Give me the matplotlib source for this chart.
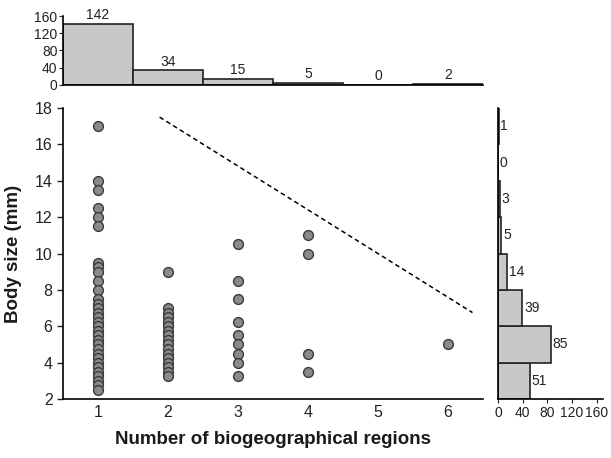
import numpy as np
import matplotlib
matplotlib.use("Agg")
import matplotlib.pyplot as plt

plt.rcParams['font.family'] = ['Liberation Sans', 'DejaVu Sans']

# number of regions histogram (top)
regions = [1, 2, 3, 4, 5, 6]
region_counts = [142, 34, 15, 5, 0, 2]

# body size histogram (right)
size_edges = [2, 4, 6, 8, 10, 12, 14, 16, 18]
size_counts = [51, 85, 39, 14, 5, 3, 0, 1]

# distinct body sizes seen at each number of regions
sizes_r1 = [17, 14, 13.5, 12.5, 12, 11.5, 9.5, 9.25, 9, 8.5, 8, 7.5, 7.25, 7,
            6.75, 6.5, 6.25, 6, 5.75, 5.5, 5.25, 5, 4.75, 4.5, 4.25, 4, 3.75,
            3.5, 3.25, 3, 2.75, 2.5]
sizes_r2 = [9, 7, 6.75, 6.5, 6.25, 6, 5.75, 5.5, 5.25, 5, 4.75, 4.5, 4.25, 4,
            3.75, 3.5, 3.25]
sizes_r3 = [10.5, 8.5, 7.5, 6.25, 5.5, 5, 4.5, 4, 3.25]
sizes_r4 = [11, 10, 4.5, 3.5]
sizes_r6 = [5]

# dashed upper bound line
bound_x = [1.88, 6.35]
bound_y = [17.5, 6.75]

W, H = 611, 458
fig = plt.figure(figsize=(W / 100, H / 100), dpi=100)

def frac(x0, y0, x1, y1):
    return [x0 / W, 1 - y1 / H, (x1 - x0) / W, (y1 - y0) / H]

ax = fig.add_axes(frac(63, 108, 483, 399))
ax_top = fig.add_axes(frac(63, 16, 483, 85))
ax_right = fig.add_axes(frac(498, 108, 603, 399))

bar_face = '#c8c8c8'
tick_fs = 11.5

# main scatter
xs, ys = [], []
for r, vals in zip([1, 2, 3, 4, 6], [sizes_r1, sizes_r2, sizes_r3, sizes_r4, sizes_r6]):
    xs += [r] * len(vals)
    ys += vals
ax.scatter(xs, ys, s=50, facecolor='#8a8a8a', edgecolor='#3a3a3a', linewidth=1.0, zorder=3)
ax.plot(bound_x, bound_y, color='black', linestyle=(0, (3, 2.2)), linewidth=1.1)

ax.set_xlim(0.5, 6.5)
ax.set_ylim(2, 18)
ax.set_xticks(regions)
ax.set_yticks(np.arange(2, 19, 2))
ax.tick_params(axis='x', length=0, pad=4, labelsize=tick_fs, colors='#222222')
ax.tick_params(axis='y', length=4, width=1, direction='out', labelsize=tick_fs, colors='#222222')
for s in ['top', 'right']:
    ax.spines[s].set_visible(False)
for s in ['left', 'bottom']:
    ax.spines[s].set_linewidth(1.2)
ax.set_xlabel('Number of biogeographical regions', fontsize=13.5, fontweight='bold',
              labelpad=8, color='#1a1a1a')
ax.set_ylabel('Body size (mm)', fontsize=13.5, fontweight='bold', labelpad=9, color='#1a1a1a')

# top histogram
ax_top.bar(regions, region_counts, width=1, facecolor=bar_face, edgecolor='#222222', linewidth=1.2)
for r, c in zip(regions, region_counts):
    ax_top.text(r, c + 4, str(c), ha='center', va='bottom', fontsize=10, color='#222222',
                clip_on=False)
ax_top.set_xlim(0.5, 6.5)
ax_top.set_ylim(0, 160)
ax_top.set_yticks([0, 40, 80, 120, 160])
ax_top.set_xticks([])
ax_top.tick_params(axis='y', length=3, labelsize=10, pad=1, colors='#222222')
for s in ['top', 'right']:
    ax_top.spines[s].set_visible(False)
for s in ['left', 'bottom']:
    ax_top.spines[s].set_linewidth(1.2)

# right histogram
centers = [(a + b) / 2 for a, b in zip(size_edges[:-1], size_edges[1:])]
ax_right.barh(centers, size_counts, height=2, facecolor=bar_face, edgecolor='#222222', linewidth=1.2)
for yc, c in zip(centers, size_counts):
    ax_right.text(c + 3, yc, str(c), ha='left', va='center', fontsize=10, color='#222222')
ax_right.set_ylim(2, 18)
ax_right.set_xlim(0, 170)
ax_right.set_xticks([0, 40, 80, 120, 160])
ax_right.set_yticks([])
ax_right.tick_params(axis='x', length=3, labelsize=10, pad=2, colors='#222222')
for s in ['top', 'right']:
    ax_right.spines[s].set_visible(False)
for s in ['left', 'bottom']:
    ax_right.spines[s].set_linewidth(1.2)

fig.savefig('out.png', dpi=100)
